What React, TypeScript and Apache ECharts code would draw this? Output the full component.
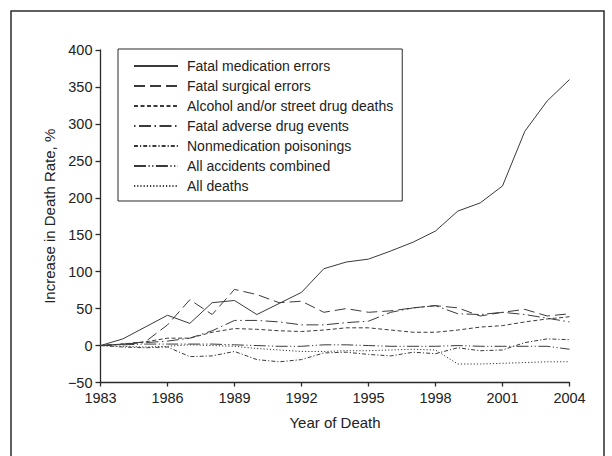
import React, { useEffect, useRef } from "react";
import * as echarts from "echarts";

const years = [1983, 1984, 1985, 1986, 1987, 1988, 1989, 1990, 1991, 1992, 1993, 1994, 1995, 1996, 1997, 1998, 1999, 2000, 2001, 2002, 2003, 2004];

const medicationErrors = [0, 9, 25, 41, 30, 58, 61, 42, 57, 72, 104, 113, 117, 128, 140, 155, 182, 193, 216, 290, 331, 360];
const surgicalErrors = [0, 2, 5, 28, 62, 42, 76, 69, 58, 60, 45, 50, 45, 47, 51, 54, 51, 40, 45, 49, 40, 43];
const alcoholDrugDeaths = [0, 2, 5, 10, 10, 18, 23, 22, 20, 19, 21, 24, 24, 21, 18, 18, 21, 25, 27, 32, 36, 39];
const adverseDrugEvents = [0, 2, 4, 6, 10, 20, 34, 34, 32, 28, 28, 31, 33, 45, 51, 54, 43, 42, 45, 42, 37, 32];
const nonmedPoisonings = [0, -2, -3, -2, -15, -14, -8, -19, -22, -19, -10, -9, -12, -14, -9, -11, -3, -7, -6, 4, 9, 8];
const allAccidents = [0, 1, 2, 2, 2, 2, 1, 0, -1, -1, 1, 1, 0, -1, -1, -1, 0, -1, -1, -1, -1, -5];
const allDeaths = [0, -1, -2, -1, 1, 0, -1, -4, -6, -8, -8, -7, -7, -6, -5, -6, -25, -25, -24, -23, -22, -22];

const seriesNames = [
  "Fatal medication errors",
  "Fatal surgical errors",
  "Alcohol and/or street drug deaths",
  "Fatal adverse drug events",
  "Nonmedication poisonings",
  "All accidents combined",
  "All deaths",
];
const seriesValues = [medicationErrors, surgicalErrors, alcoholDrugDeaths, adverseDrugEvents, nonmedPoisonings, allAccidents, allDeaths];
const dashTypes: any[] = [
  "solid",
  [11, 5],
  [4, 2.5],
  [1.5, 3.5, 12, 3.5],
  [4, 2, 1.2, 2],
  [12, 2.5, 1.2, 2.5, 1.2, 2.5],
  [1.2, 2],
];

const FONT = "'Liberation Sans', Arial, Helvetica, sans-serif";
const INK = "#2b2b2b";
const TEXT = "#222222";

export default function App() {
  const ref = useRef<HTMLDivElement>(null);
  useEffect(() => {
    if (!ref.current) return;
    const chart = echarts.init(ref.current, undefined, { renderer: "svg" });
    const fmt = (v: number) => String(v).replace("-", "\u2212");
    chart.setOption({
      animation: false,
      backgroundColor: "#ffffff",
      textStyle: { fontFamily: FONT },
      graphic: [
        {
          type: "rect",
          z: -1,
          shape: { x: 11, y: 11, width: 593, height: 470 },
          style: { fill: "none", stroke: INK, lineWidth: 1.5 },
        },
      ],
      grid: { left: 100.5, right: 42.5, top: 50, bottom: 73.5, containLabel: false },
      legend: {
        orient: "vertical",
        left: 118,
        top: 49,
        padding: [10, 9, 8, 15],
        itemWidth: 44,
        itemHeight: 10,
        itemGap: 6,
        borderColor: INK,
        borderWidth: 1,
        backgroundColor: "#ffffff",
        itemStyle: { color: "rgba(0,0,0,0)", borderWidth: 0, opacity: 0 },
        textStyle: { fontFamily: FONT, fontSize: 14, color: TEXT, padding: [0, 0, 0, 4] },
        data: seriesNames,
      },
      xAxis: {
        type: "value",
        min: 1983,
        max: 2004,
        interval: 3,
        name: "Year of Death",
        nameLocation: "middle",
        nameGap: 32,
        nameTextStyle: { fontFamily: FONT, fontSize: 15, color: TEXT },
        axisLine: { show: true, onZero: false, lineStyle: { color: INK, width: 1.3 } },
        axisTick: { show: true, length: 4, lineStyle: { color: INK, width: 1.3 } },
        axisLabel: { fontFamily: FONT, fontSize: 14.5, color: TEXT, margin: 8, formatter: (v: number) => String(v) },
        splitLine: { show: false },
      },
      yAxis: {
        type: "value",
        min: -50,
        max: 400,
        interval: 50,
        name: "Increase in Death Rate, %",
        nameLocation: "middle",
        nameGap: 40,
        nameTextStyle: { fontFamily: FONT, fontSize: 15, color: TEXT },
        axisLine: { show: true, lineStyle: { color: INK, width: 1.3 } },
        axisTick: { show: true, length: 5, lineStyle: { color: INK, width: 1.3 } },
        axisLabel: { fontFamily: FONT, fontSize: 14.5, color: TEXT, margin: 8, formatter: fmt },
        splitLine: { show: false },
      },
      series: seriesNames.map((name, i) => ({
        name,
        type: "line",
        symbol: "none",
        showSymbol: false,
        data: years.map((y, j) => [y, seriesValues[i][j]]),
        lineStyle: { color: "#3a3a3a", width: 1, type: dashTypes[i] },
        itemStyle: { color: "#3a3a3a" },
        emphasis: { disabled: true },
      })),
    });
    return () => chart.dispose();
  }, []);
  return <div ref={ref} style={{ position: "fixed", left: 0, top: 0, width: 612, height: 456 }} />;
}
